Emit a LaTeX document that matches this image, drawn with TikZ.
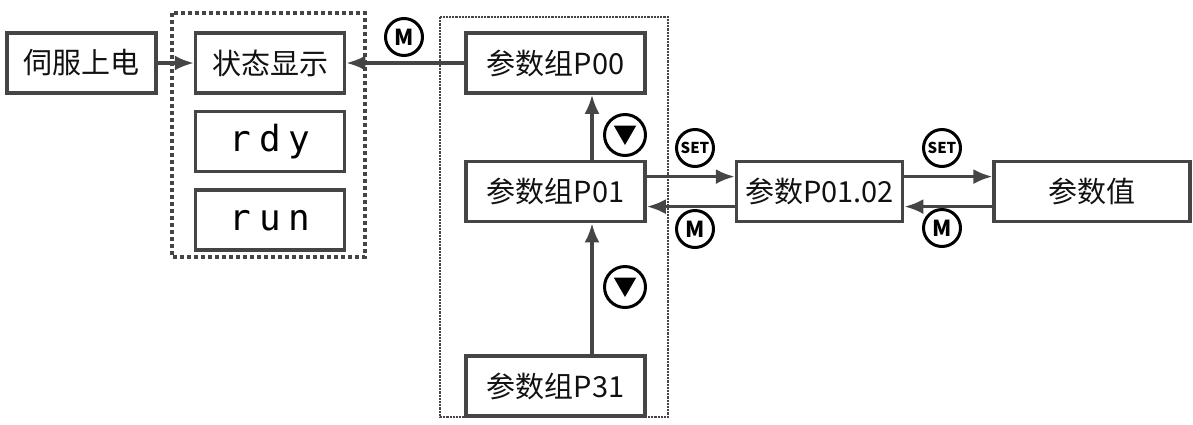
\documentclass[tikz,border=0pt]{standalone}
\usepackage{fontspec}
\setmainfont{Noto Sans CJK SC}
\newfontfamily\segfont{DejaVu Sans Mono}
\usetikzlibrary{positioning, arrows.meta, shapes.geometric}
\definecolor{linegray}{HTML}{454545}
\definecolor{textgray}{HTML}{111111}

\begin{document}
\begin{tikzpicture}[x=1pt, y=1pt,
		box/.style = {draw=linegray, line width=3.6pt, minimum height=60pt, inner sep=0pt,
			text=textgray, font=\fontsize{29}{29}\selectfont},
		narrow/.style = {box, minimum width=149pt},
		wide/.style = {box, minimum width=179pt},
		seg/.style = {narrow, font=\fontsize{36}{36}\segfont, text=black},
		arr/.style = {draw=linegray, line width=3.2pt, -{Latex[length=19pt, width=15pt]}},
		btn/.style = {circle, draw=black, line width=3pt, minimum size=37pt, inner sep=0pt,
			font=\fontsize{22}{22}\selectfont\bfseries},
		setbtn/.style = {btn, font=\fontsize{15}{15}\selectfont\bfseries},
		downbtn/.style = {btn, minimum size=41pt},
		tri/.style = {regular polygon, regular polygon sides=3, shape border rotate=180,
			fill=black, minimum size=26pt, inner sep=0pt},
		frame/.style = {draw=linegray}]
	\useasboundingbox (0,0) rectangle (1193,-424);

	% display side
	\node[narrow] (power) at (81.5,-63) {伺服上电};
	\node[narrow] (status) [right=36pt of power] {状态显示};
	\node[seg] (rdy) [below=15pt of status] {r\hspace{8pt}d\hspace{8pt}y};
	\node[seg] (run) [below=15pt of rdy] {r\hspace{8pt}u\hspace{8pt}n};
	\draw[frame, line width=3.6pt, dash pattern=on 4pt off 3pt] (172,-13) rectangle (365,-257);

	% parameter groups
	\node[wide] (p00) at (555.5,-63) {参数组P00};
	\node[wide] (p01) [below=65pt of p00] {参数组P01};
	\node[wide] (p31) [below=131pt of p01] {参数组P31};
	\draw[frame, line width=2.2pt, densely dotted] (440,-17) rectangle (668,-417);

	\node[box, minimum width=166pt] (p0102) [right=88pt of p01] {参数P01.02};
	\node[box, minimum width=196pt] (value) [right=88pt of p0102] {参数值};

	% keys
	\node[btn] (m1) at (404,-37) {M};
	\node[downbtn] (dn1) at (625,-135) {};
	\node[tri] at ([yshift=3pt]dn1) {};
	\node[downbtn] (dn2) at (625,-287) {};
	\node[tri] at ([yshift=3pt]dn2) {};
	\node[setbtn] (set1) at (695,-148) {SET};
	\node[btn] (m2) at (695,-229) {M};
	\node[setbtn] (set2) at (942,-148) {SET};
	\node[btn] (m3) at (942,-228) {M};

	\draw[arr] (power) -- (status);
	\draw[arr] (p00) -- (status);
	\draw[arr] ([xshift=36.5pt]p01.north) -- ([xshift=36.5pt]p00.south);
	\draw[arr] ([xshift=36.5pt]p31.north) -- ([xshift=36.5pt]p01.south);
	\draw[arr] ([yshift=15pt]p01.east) -- ([yshift=15pt]p0102.west);
	\draw[arr] ([yshift=-15pt]p0102.west) -- ([yshift=-15pt]p01.east);
	\draw[arr] ([yshift=15pt]p0102.east) -- ([yshift=15pt]value.west);
	\draw[arr] ([yshift=-15pt]value.west) -- ([yshift=-15pt]p0102.east);
\end{tikzpicture}
\end{document}
